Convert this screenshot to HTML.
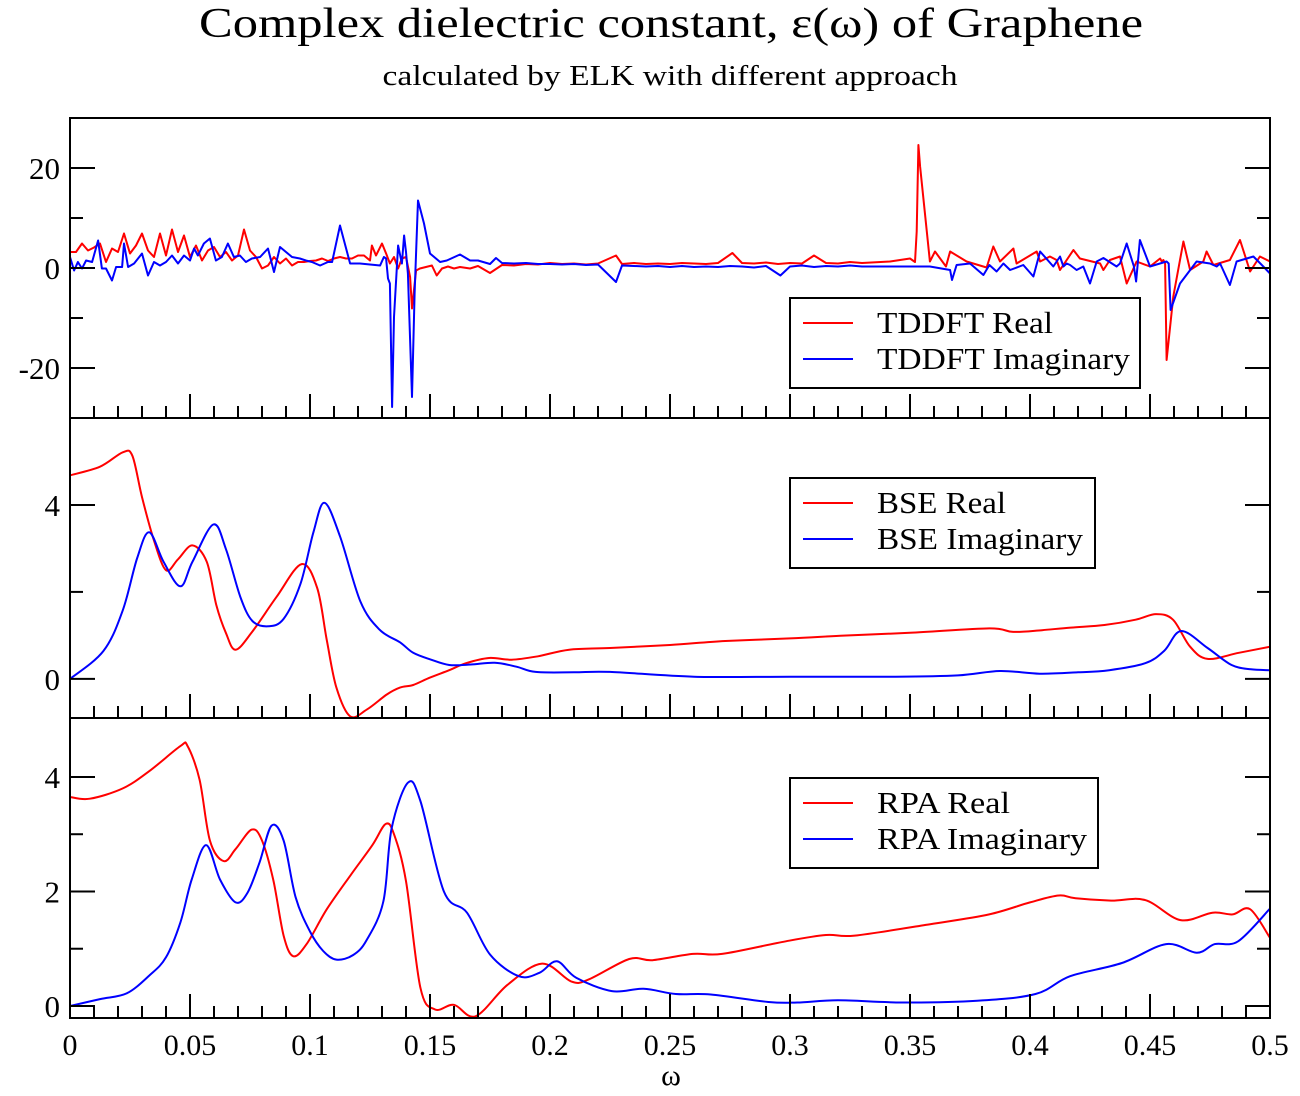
<!DOCTYPE html>
<html><head><meta charset="utf-8"><style>
html,body{margin:0;padding:0;background:#fff;}
svg{display:block;font-family:"Liberation Serif",serif;}
</style></head><body>
<svg id="chart" width="1300" height="1096" viewBox="0 0 1300 1096" xmlns="http://www.w3.org/2000/svg">
<rect width="1300" height="1096" fill="#fff"/>
<text x="671" y="37" font-size="42" text-anchor="middle" textLength="944" lengthAdjust="spacingAndGlyphs">Complex dielectric constant, ε(ω) of Graphene</text>
<text x="670" y="85" font-size="28" text-anchor="middle" textLength="575" lengthAdjust="spacingAndGlyphs">calculated by ELK with different approach</text>
<text x="671" y="1085" font-size="30" text-anchor="middle">ω</text>
<g id="plots"></g>
</svg>
<script>
// ---- data ----
const xTicks = [0,0.05,0.1,0.15,0.2,0.25,0.3,0.35,0.4,0.45,0.5];
const xTickLabels = ["0","0.05","0.1","0.15","0.2","0.25","0.3","0.35","0.4","0.45","0.5"];

// TDDFT real (omega, value)
const tdRealW = [0,0.0025,0.005,0.0075,0.01,0.0125,0.015,0.0175,0.02,0.0225,0.025,0.0275,0.03,0.0325,0.035,0.0375,0.04,0.0425,0.045,0.0475,0.05,0.0525,0.055,0.0575,0.06,0.0625,0.065,0.0675,0.07,0.0725,0.075,0.0775,0.08,0.0825,0.085,0.0875,0.09,0.0925,0.095,0.0975,0.1,0.1025,0.105,0.1075,0.11,0.1125,0.115,0.1175,0.12,0.1225,0.125,0.1258,0.1275,0.13,0.1317,0.1333,0.135,0.1367,0.1383,0.14,0.1417,0.1425,0.1433,0.1442,0.1458,0.1483,0.1508,0.1528,0.155,0.1575,0.16,0.1625,0.1667,
 0.17,0.175,0.18,0.185,0.19,0.195,0.2,0.205,0.21,0.215,0.22,0.2275,0.23,0.235,0.24,0.245,0.25,0.255,0.26,0.265,0.27,0.276,0.28,0.285,0.29,0.295,0.3,0.305,0.31,0.315,0.32,0.325,0.33,
 0.3417,0.35,0.3521,0.3528,0.3535,0.3542,0.3583,0.3604,0.365,0.3667,0.3736,0.3736,0.3736,0.3819,0.3847,0.3875,0.3931,0.3944,0.4028,0.4042,0.4083,0.4111,0.4125,0.4181,0.4208,0.4292,0.4306,0.4333,0.4375,0.4403,0.4444,0.45,0.4542,0.4549,0.4556,0.4563,0.4569,0.4597,0.4639,0.4667,0.4722,0.4736,0.4764,0.4833,0.4875,0.4917,0.4958,0.5];
const tdRealV = [3.2,3.2,4.9,3.5,4.1,4.9,1.2,3.9,3.2,6.9,2.9,4.5,6.9,3.5,2.2,6.9,2.5,7.7,3.2,6.5,2.2,4.5,1.5,3.5,4.2,2.2,3.2,1.5,2.5,7.7,3.5,2.2,-0.1,0.5,2.2,0.9,1.9,0.5,1.2,1.2,1.4,1.5,1.9,1.4,1.9,2.2,1.9,1.9,2.5,2.5,1.5,4.5,2.5,4.9,2.9,0.9,2.2,-0.1,1.9,2.2,-1.8,-8.1,-4.5,-0.5,-0.1,0.2,0.5,-1.5,-0.1,0.3,-0.1,0.2,-0.1,
 0.4,-1.0,0.6,0.5,0.8,0.7,1.0,0.8,0.9,0.7,0.9,2.5,0.8,1.0,0.8,0.9,0.8,1.0,0.9,0.8,1.0,3.0,1.0,0.9,1.1,0.8,1.0,0.9,2.5,1.0,0.9,1.2,1.0,
 1.3,1.9,1.2,7.3,24.6,20.3,1.3,3.3,0.3,3.3,1.3,1.3,1.3,0.1,4.3,1.3,3.9,0.9,3.3,1.3,2.3,1.6,-0.4,3.6,1.9,0.9,-0.4,1.6,2.3,-3.1,1.3,0.3,1.9,1.3,1.6,0.9,-18.4,-5.7,5.3,-0.4,1.3,3.3,0.6,1.6,5.6,-0.7,2.3,1.3,0.6,-1.7,0.3,1.6,0.9];

// TDDFT imaginary
const tdImagW = [0,0.0017,0.0033,0.005,0.0067,0.0092,0.0117,0.0133,0.015,0.0175,0.0192,0.0217,0.0225,0.0242,0.0267,0.03,0.0325,0.035,0.0375,0.04,0.0425,0.045,0.0475,0.05,0.0517,0.0533,0.0558,0.0583,0.0608,0.0633,0.0658,0.0683,0.0708,0.0733,0.0758,0.0792,0.0825,0.085,0.0875,0.0925,0.0958,0.0983,0.1008,0.1042,0.1075,0.1092,0.1125,0.1167,0.1208,0.125,0.1292,0.1308,0.1317,0.1325,0.1333,0.1342,0.135,0.1367,0.1383,0.1392,0.14,0.1408,0.1425,0.1436,0.145,0.1475,0.15,0.1542,0.157,0.1625,0.1667,
 0.17,0.175,0.1775,0.18,0.185,0.19,0.195,0.2,0.205,0.21,0.215,0.22,0.2275,0.23,0.235,0.24,0.245,0.25,0.255,0.26,0.265,0.27,0.275,0.28,0.285,0.29,0.296,0.3,0.305,0.31,0.315,0.32,0.325,0.33,
 0.3417,0.35,0.3583,0.3667,0.3675,0.3694,0.375,0.3806,0.3831,0.3861,0.3889,0.3917,0.3972,0.4014,0.4042,0.4097,0.4125,0.4139,0.4153,0.4167,0.4194,0.4222,0.425,0.4278,0.4306,0.4361,0.4375,0.4403,0.4433,0.4442,0.4458,0.45,0.4569,0.4578,0.4586,0.4625,0.4694,0.4750,0.4778,0.4792,0.4833,0.4861,0.4931,0.4972,0.5];
const tdImagV = [2.2,-0.5,1.2,-0.1,1.5,1.2,5.5,-0.1,-0.1,-2.5,0.2,0.2,4.9,0.2,0.9,2.9,-1.5,1.2,0.5,1.2,2.5,0.9,2.5,1.5,3.9,2.5,4.9,5.9,1.5,2.2,4.9,2.2,2.5,1.2,1.9,2.2,3.9,-0.8,4.2,2.2,1.9,1.5,1.2,0.5,1.2,1.2,8.5,0.9,0.9,0.7,0.5,2.2,1.9,-2.1,-3.1,-27.8,-9.8,4.5,0.9,6.5,3.2,-1.1,-25.8,-5.1,13.5,8.9,2.9,1.2,1.5,2.7,1.5,
 1.5,0.8,2.0,1.0,0.9,1.0,0.8,0.8,0.7,0.8,0.6,0.7,-2.8,0.5,0.4,0.3,0.4,0.2,0.4,0.2,0.3,0.2,0.4,0.3,0.1,0.4,-1.5,0.3,0.5,0.2,0.4,0.3,0.5,0.3,
 0.3,0.3,0.3,-0.4,-2.4,0.6,0.9,-1.4,0.6,-0.7,0.9,-0.4,0.6,-1.7,3.3,0.3,2.3,0.3,0.9,0.6,-0.4,0.3,-3.1,1.3,2.0,0.3,0.9,4.9,0.3,-2.7,5.6,0.3,1.3,0.9,-8.4,-3.1,1.3,0.9,0.3,0.9,-3.4,1.3,2.3,0.3,-1.1,0.6,0.9];

// BSE
const bseRealW = [0,0.0125,0.022,0.026,0.030,0.035,0.040,0.045,0.051,0.057,0.061,0.065,0.069,0.076,0.086,0.0965,0.103,0.107,0.111,0.1167,0.1236,0.132,0.1375,0.143,0.150,0.158,0.165,0.1746,0.184,0.195,0.208,0.225,0.25,0.273,0.30,0.321,0.35,0.383,0.393,0.405,0.417,0.431,0.444,0.4525,0.4596,0.4667,0.474,0.487,0.5];
const bseRealV = [4.68,4.88,5.21,5.13,4.18,3.18,2.5,2.75,3.07,2.69,1.69,1.05,0.67,1.09,1.88,2.64,2.09,0.89,-0.2,-0.86,-0.71,-0.36,-0.2,-0.14,0.03,0.2,0.36,0.48,0.44,0.52,0.67,0.71,0.78,0.87,0.93,0.99,1.06,1.16,1.08,1.12,1.18,1.24,1.36,1.49,1.36,0.74,0.46,0.6,0.74];
const bseImagW = [0,0.0139,0.022,0.028,0.033,0.039,0.046,0.051,0.0597,0.065,0.071,0.076,0.0826,0.089,0.096,0.1014,0.106,0.1125,0.121,0.129,0.1375,0.143,0.150,0.158,0.167,0.177,0.186,0.194,0.21,0.225,0.26,0.30,0.344,0.37,0.3875,0.404,0.42,0.433,0.448,0.456,0.463,0.474,0.484,0.492,0.5];
const bseImagV = [0,0.64,1.58,2.78,3.37,2.69,2.13,2.69,3.55,2.98,1.88,1.33,1.21,1.38,2.18,3.37,4.05,3.28,1.78,1.13,0.84,0.6,0.45,0.32,0.33,0.37,0.28,0.16,0.15,0.16,0.05,0.05,0.05,0.08,0.18,0.12,0.15,0.2,0.36,0.65,1.1,0.71,0.32,0.22,0.2];

// RPA
const rpaRealW = [0,0.0083,0.022,0.033,0.046,0.049,0.054,0.0583,0.064,0.069,0.0757,0.080,0.0847,0.089,0.093,0.0986,0.107,0.117,0.126,0.1316,0.135,0.140,0.146,0.152,0.160,0.169,0.1823,0.1967,0.2088,0.216,0.233,0.2427,0.2596,0.2717,0.2983,0.315,0.327,0.3587,0.383,0.400,0.412,0.419,0.4338,0.448,0.4627,0.476,0.4844,0.4917,0.5];
const rpaRealV = [3.65,3.62,3.8,4.1,4.54,4.54,3.95,2.89,2.53,2.74,3.08,2.89,2.2,1.23,0.87,1.08,1.69,2.29,2.81,3.18,3.0,2.18,0.32,-0.06,0.02,-0.18,0.37,0.74,0.43,0.46,0.82,0.8,0.91,0.91,1.13,1.24,1.23,1.43,1.6,1.81,1.93,1.88,1.84,1.85,1.5,1.63,1.6,1.69,1.19];
const rpaImagW = [0,0.0125,0.0236,0.033,0.040,0.046,0.0507,0.0567,0.0625,0.069,0.074,0.079,0.084,0.089,0.094,0.100,0.1055,0.111,0.118,0.1236,0.1306,0.134,0.1408,0.146,0.1558,0.1654,0.175,0.187,0.1956,0.2029,0.211,0.2258,0.239,0.2524,0.267,0.291,0.303,0.32,0.3467,0.378,0.4023,0.4167,0.4383,0.4567,0.4695,0.477,0.4867,0.5];
const rpaImagV = [0,0.12,0.22,0.53,0.85,1.46,2.21,2.81,2.21,1.81,1.98,2.51,3.15,2.89,1.9,1.3,0.96,0.81,0.89,1.15,1.83,3.1,3.9,3.58,2.0,1.63,0.9,0.52,0.58,0.78,0.49,0.26,0.3,0.21,0.2,0.07,0.06,0.1,0.06,0.09,0.21,0.52,0.75,1.08,0.93,1.08,1.13,1.7];

// ---- drawing ----
const NS = "http://www.w3.org/2000/svg";
const X0 = 70, X1 = 1270;
const xScale = w => X0 + (w - 0) / 0.5 * (X1 - X0);
const root = document.getElementById('plots');

function mk(tag, attrs, parent) {
  const e = document.createElementNS(NS, tag);
  for (const k in attrs) e.setAttribute(k, attrs[k]);
  parent.appendChild(e);
  return e;
}

const panels = [
  {name:'tddft', top:118, bottom:418, ymin:-30, ymax:30, major:[-20,0,20], minor:[-10,10], labels:["-20","0","20"],
   series:[[tdRealW,tdRealV,'#ff0000','tddft-real-line',false],[tdImagW,tdImagV,'#0000ff','tddft-imaginary-line',false]],
   legend:{x:790,y:298,w:350,items:["TDDFT Real","TDDFT Imaginary"],lens:[176,253]}},
  {name:'bse', top:418, bottom:718, ymin:-0.9, ymax:6.0, major:[0,4], minor:[2], labels:["0","4"],
   series:[[bseRealW,bseRealV,'#ff0000','bse-real-line',true],[bseImagW,bseImagV,'#0000ff','bse-imaginary-line',true]],
   legend:{x:790,y:478,w:305,items:["BSE Real","BSE Imaginary"],lens:[129,206]}},
  {name:'rpa', top:718, bottom:1018, ymin:-0.21, ymax:5.03, major:[0,2,4], minor:[1,3], labels:["0","2","4"],
   series:[[rpaRealW,rpaRealV,'#ff0000','rpa-real-line',true],[rpaImagW,rpaImagV,'#0000ff','rpa-imaginary-line',true]],
   legend:{x:790,y:778,w:308,items:["RPA Real","RPA Imaginary"],lens:[133,210]}}
];

function smoothPath(pts) {
  let d = 'M' + pts[0][0].toFixed(1) + ',' + pts[0][1].toFixed(1);
  for (let i = 0; i < pts.length - 1; i++) {
    const p0 = pts[Math.max(0, i - 1)], p1 = pts[i], p2 = pts[i + 1], p3 = pts[Math.min(pts.length - 1, i + 2)];
    const t = 1 / 6;
    const c1x = p1[0] + (p2[0] - p0[0]) * t, c1y = p1[1] + (p2[1] - p0[1]) * t;
    const c2x = p2[0] - (p3[0] - p1[0]) * t, c2y = p2[1] - (p3[1] - p1[1]) * t;
    d += ' C' + c1x.toFixed(1) + ',' + c1y.toFixed(1) + ' ' + c2x.toFixed(1) + ',' + c2y.toFixed(1) + ' ' + p2[0].toFixed(1) + ',' + p2[1].toFixed(1);
  }
  return d;
}

panels.forEach(p => {
  const yScale = v => p.bottom - (v - p.ymin) / (p.ymax - p.ymin) * (p.bottom - p.top);
  const g = mk('g', {}, root);
  
  
  const cid = 'clip-' + p.name;
  const cp = mk('clipPath', {id: cid}, g);
  mk('rect', {x: X0, y: p.top, width: X1 - X0, height: p.bottom - p.top}, cp);
  p.series.forEach(s => {
    const pts = s[0].map((w, i) => [xScale(w), yScale(s[1][i])]);
    let path;
    if (s[4]) {
      path = mk('path', {d: smoothPath(pts), fill: 'none', stroke: s[2], 'stroke-width': 2, 'clip-path': 'url(#' + cid + ')'}, g);
    } else {
      path = mk('polyline', {points: pts.map(q => q[0].toFixed(1) + ',' + q[1].toFixed(1)).join(' '), fill: 'none', stroke: s[2], 'stroke-width': 2, 'stroke-linejoin': 'round', 'clip-path': 'url(#' + cid + ')'}, g);
    }
    
    
  });
  const fr = mk('rect', {x: X0, y: p.top, width: X1 - X0, height: p.bottom - p.top, fill: 'none', stroke: '#000', 'stroke-width': 2}, g);
  
  
  const tg = mk('g', {stroke: '#000', 'stroke-width': 2}, g);
  
  
  for (let i = 1; i < 50; i++) {
    const x = xScale(i * 0.01);
    const len = (i % 5 === 0) ? 24 : 12;
    mk('line', {x1: x, x2: x, y1: p.bottom, y2: p.bottom - len}, tg);
  }
  const yg = mk('g', {stroke: '#000', 'stroke-width': 2}, g);
  
  
  p.major.forEach(v => {
    const y = yScale(v);
    mk('line', {x1: X0, x2: X0 + 25, y1: y, y2: y}, yg);
    mk('line', {x1: X1, x2: X1 - 25, y1: y, y2: y}, yg);
  });
  p.minor.forEach(v => {
    const y = yScale(v);
    mk('line', {x1: X0, x2: X0 + 13, y1: y, y2: y}, yg);
    mk('line', {x1: X1, x2: X1 - 13, y1: y, y2: y}, yg);
  });
  p.major.forEach((v, i) => {
    const t = mk('text', {x: 60, y: yScale(v) + 11, 'font-size': 31, 'text-anchor': 'end'}, g);
    t.textContent = p.labels[i];
    
    
  });
  const L = p.legend;
  const lg = mk('g', {}, g);
  
  
  mk('rect', {x: L.x, y: L.y, width: L.w, height: 90, fill: '#fff', stroke: '#000', 'stroke-width': 2}, lg);
  L.items.forEach((txt, i) => {
    const y = L.y + 25 + i * 36;
    const ln = mk('line', {x1: L.x + 13, x2: L.x + 63, y1: y, y2: y, stroke: i === 0 ? '#ff0000' : '#0000ff', 'stroke-width': 2}, lg);
    
    
    const t = mk('text', {x: L.x + 87, y: y + 10, 'font-size': 31, textLength: L.lens[i], lengthAdjust: 'spacingAndGlyphs'}, lg);
    t.textContent = txt;
    
    
  });
});

xTicks.forEach((v, i) => {
  const t = mk('text', {x: xScale(v), y: 1055, 'font-size': 30, 'text-anchor': 'middle'}, root);
  t.textContent = xTickLabels[i];
  
  
});
</script>
</body></html>
